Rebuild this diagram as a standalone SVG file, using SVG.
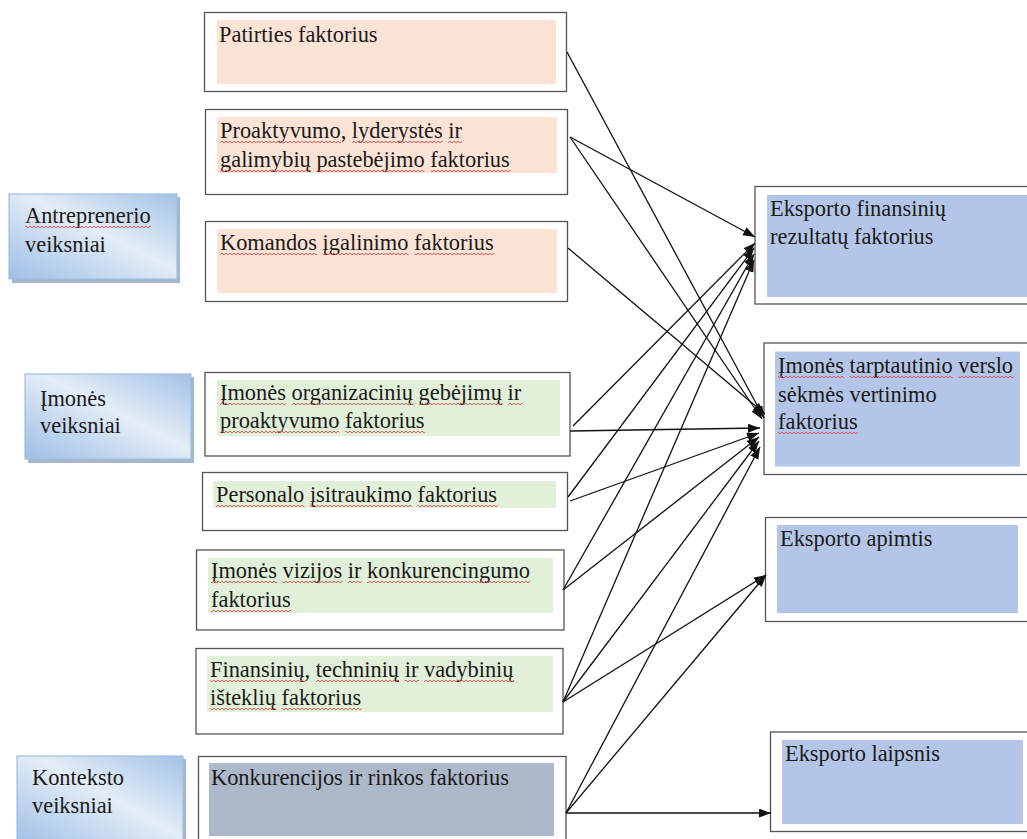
<svg xmlns="http://www.w3.org/2000/svg" width="1027" height="839" viewBox="0 0 1027 839">
<style>
text{font-family:"Liberation Serif","Times New Roman",serif;font-size:22.4px;fill:#1a1a1a}
.sq{fill:url(#wv)}
.outer{fill:#fff;stroke:#555;stroke-width:1.3}
.pe{fill:#fbe3d6}
.gr{fill:#e2efd9}
.gb{fill:#adb9ca}
.bl{fill:#b4c6e7}
.grp{fill:url(#gg);stroke:#9fbfe0;stroke-width:1.2}
.sh{fill:#a7b6ca}
#connectors line{stroke:#111;stroke-width:1.3;fill:none;marker-end:url(#ah)}
</style>
<defs>
<linearGradient id="gg" x1="0" y1="1" x2="1" y2="0">
<stop offset="0" stop-color="#9dbfe6"/>
<stop offset="0.55" stop-color="#e4edf7"/>
<stop offset="1" stop-color="#a3c2e6"/>
</linearGradient>
<pattern id="wv" patternUnits="userSpaceOnUse" width="4" height="4">
<path d="M0,3 L2,1 L4,3" fill="none" stroke="#e04a4a" stroke-width="0.9"/>
</pattern>
<marker id="ah" markerUnits="userSpaceOnUse" markerWidth="13" markerHeight="10" refX="12" refY="4.5" orient="auto">
<path d="M0,0 L12,4.5 L0,9 z" fill="#111"/>
</marker>
</defs>
<rect width="1027" height="839" fill="#fff"/>

<g id="g-antreprenerio">
<rect class="sh" x="12" y="197" width="168" height="86"/>
<rect class="grp" x="9" y="194" width="168" height="85"/>
<text x="25" y="223">Antreprenerio</text>
<rect class="sq" x="25" y="0" width="126" height="4" transform="translate(0,225)"/>
<text x="25" y="252">veiksniai</text>
</g>
<g id="g-imones">
<rect class="sh" x="28" y="377" width="166" height="86"/>
<rect class="grp" x="25" y="374" width="166" height="85"/>
<text x="40" y="406">Įmonės</text>
<text x="40" y="433">veiksniai</text>
</g>
<g id="g-konteksto">
<rect class="sh" x="20" y="759" width="166" height="90"/>
<rect class="grp" x="17" y="756" width="166" height="90"/>
<text x="32" y="785">Konteksto</text>
<text x="32" y="813">veiksniai</text>
</g>

<g id="n-patirties">
<rect class="outer" x="204.5" y="12.5" width="362" height="79"/>
<rect class="pe" x="217" y="20" width="339" height="64"/>
<text x="219" y="42">Patirties faktorius</text>
</g>
<g id="n-proaktyvumo">
<rect class="outer" x="205.5" y="109.5" width="362" height="85"/>
<rect class="pe" x="217" y="117" width="340" height="56"/>
<text x="220" y="138">Proaktyvumo, lyderystės ir</text>
<text x="220" y="167">galimybių pastebėjimo faktorius</text>
<g transform="translate(0,140)">
<rect class="sq" x="220" y="0" width="121" height="4"/>
<rect class="sq" x="352" y="0" width="91" height="4"/>
<rect class="sq" x="448" y="0" width="14" height="4"/>
</g>
<g transform="translate(0,169)">
<rect class="sq" x="220" y="0" width="91" height="4"/>
<rect class="sq" x="316.5" y="0" width="108" height="4"/>
<rect class="sq" x="430.5" y="0" width="80" height="4"/>
</g>
</g>
<g id="n-komandos">
<rect class="outer" x="205.5" y="221.5" width="362" height="80"/>
<rect class="pe" x="217" y="229" width="340" height="64"/>
<text x="220" y="250">Komandos įgalinimo faktorius</text>
<g transform="translate(0,252)">
<rect class="sq" x="220" y="0" width="97" height="4"/>
<rect class="sq" x="322.7" y="0" width="86" height="4"/>
<rect class="sq" x="414.2" y="0" width="80" height="4"/>
</g>
</g>
<g id="n-organizaciniu">
<rect class="outer" x="205" y="372.5" width="365" height="83.5"/>
<rect class="gr" x="217" y="380" width="343" height="56"/>
<text x="220" y="400">Įmonės organizacinių gebėjimų ir</text>
<text x="220" y="428">proaktyvumo faktorius</text>
<g transform="translate(0,402)">
<rect class="sq" x="220" y="0" width="66" height="4"/>
<rect class="sq" x="291.5" y="0" width="122" height="4"/>
<rect class="sq" x="419.1" y="0" width="83.4" height="4"/>
<rect class="sq" x="508.1" y="0" width="14" height="4"/>
</g>
<g transform="translate(0,430)">
<rect class="sq" x="220" y="0" width="119.5" height="4"/>
<rect class="sq" x="345.1" y="0" width="80" height="4"/>
</g>
</g>
<g id="n-personalo">
<rect class="outer" x="202.5" y="472.5" width="365" height="58"/>
<rect class="gr" x="213" y="481" width="343" height="27"/>
<text x="216" y="502">Personalo įsitraukimo faktorius</text>
<g transform="translate(0,504)">
<rect class="sq" x="216" y="0" width="88.3" height="4"/>
<rect class="sq" x="309.9" y="0" width="102" height="4"/>
<rect class="sq" x="417.6" y="0" width="80" height="4"/>
</g>
</g>
<g id="n-vizijos">
<rect class="outer" x="196.5" y="550" width="367.5" height="80"/>
<rect class="gr" x="208" y="558" width="345" height="55"/>
<text x="211" y="578">Įmonės vizijos ir konkurencingumo</text>
<text x="211" y="607">faktorius</text>
<g transform="translate(0,580)">
<rect class="sq" x="211" y="0" width="66" height="4"/>
<rect class="sq" x="282.5" y="0" width="60" height="4"/>
<rect class="sq" x="347.8" y="0" width="14" height="4"/>
<rect class="sq" x="367.1" y="0" width="163" height="4"/>
</g>
<rect class="sq" x="211" y="0" width="80" height="4" transform="translate(0,609)"/>
</g>
<g id="n-finansiniu">
<rect class="outer" x="196" y="648.5" width="367" height="85.5"/>
<rect class="gr" x="207" y="656" width="346" height="56"/>
<text x="210" y="677">Finansinių, techninių ir vadybinių</text>
<text x="210" y="705">išteklių faktorius</text>
<g transform="translate(0,679)">
<rect class="sq" x="210" y="0" width="95" height="4"/>
<rect class="sq" x="315.8" y="0" width="83.4" height="4"/>
<rect class="sq" x="404.8" y="0" width="14" height="4"/>
<rect class="sq" x="424.1" y="0" width="90" height="4"/>
</g>
<g transform="translate(0,707)">
<rect class="sq" x="210" y="0" width="66" height="4"/>
<rect class="sq" x="281.6" y="0" width="80" height="4"/>
</g>
</g>
<g id="n-konkurencijos">
<rect class="outer" x="198.5" y="756.5" width="367.5" height="90"/>
<rect class="gb" x="209" y="763" width="345" height="73"/>
<text x="211" y="785">Konkurencijos ir rinkos faktorius</text>
</g>

<g id="n-eksp-fin">
<rect class="outer" x="755" y="186.5" width="280" height="117.5"/>
<rect class="bl" x="767" y="195" width="265" height="102"/>
<text x="770" y="216">Eksporto finansinių</text>
<text x="770" y="244">rezultatų faktorius</text>
</g>
<g id="n-tarptautinio">
<rect class="outer" x="764" y="343" width="270" height="131.5"/>
<rect class="bl" x="775" y="351.5" width="245" height="115"/>
<text x="778" y="373">Įmonės tarptautinio verslo</text>
<text x="778" y="402">sėkmės vertinimo</text>
<text x="778" y="429">faktorius</text>
<g transform="translate(0,375)">
<rect class="sq" x="778" y="0" width="66" height="4"/>
<rect class="sq" x="849.5" y="0" width="103.3" height="4"/>
<rect class="sq" x="958.4" y="0" width="55" height="4"/>
</g>
<rect class="sq" x="778" y="0" width="80" height="4" transform="translate(0,431)"/>
</g>
<g id="n-apimtis">
<rect class="outer" x="765.5" y="517.5" width="270" height="104"/>
<rect class="bl" x="777" y="525" width="241" height="88"/>
<text x="780" y="546">Eksporto apimtis</text>
</g>
<g id="n-laipsnis">
<rect class="outer" x="770.5" y="732" width="265" height="99.5"/>
<rect class="bl" x="782" y="740" width="241" height="84"/>
<text x="785" y="761">Eksporto laipsnis</text>
</g>

<g id="connectors">
<line x1="570" y1="137" x2="755" y2="237"/>
<line x1="573" y1="426" x2="755" y2="243"/>
<line x1="568" y1="497" x2="754" y2="248"/>
<line x1="563" y1="590" x2="754" y2="254"/>
<line x1="563" y1="702" x2="754" y2="260"/>
<line x1="567" y1="52" x2="764" y2="418"/>
<line x1="570" y1="137" x2="762" y2="419"/>
<line x1="568" y1="248" x2="765" y2="414"/>
<line x1="570" y1="431" x2="760" y2="428"/>
<line x1="570" y1="501" x2="759" y2="433"/>
<line x1="563" y1="590" x2="759" y2="437"/>
<line x1="563" y1="702" x2="759" y2="441"/>
<line x1="566" y1="813" x2="760" y2="447"/>
<line x1="563" y1="702" x2="766" y2="575"/>
<line x1="566" y1="813" x2="766" y2="575"/>
<line x1="566" y1="813" x2="771" y2="813"/>
</g>
</svg>
